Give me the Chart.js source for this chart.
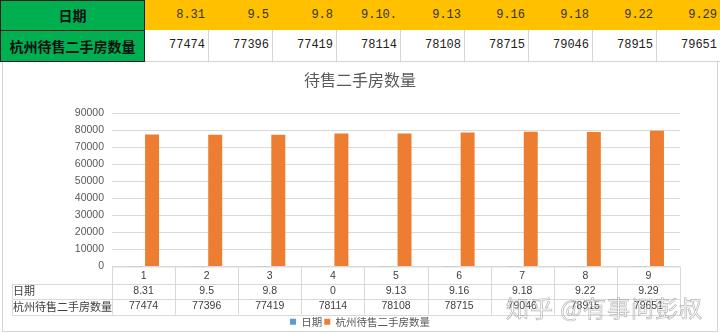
<!DOCTYPE html>
<html>
<head>
<meta charset="utf-8">
<script src="https://cdn.jsdelivr.net/npm/chart.js@4/dist/chart.umd.min.js"></script>
<style>
  body { margin: 0; background: #fff; width: 720px; height: 334px; overflow: hidden; position: relative; font-family: "Noto Sans CJK SC", sans-serif; }
  #sheet { position: absolute; left: 0; top: 0; width: 720px; height: 62px; overflow: hidden; }
  .cell { position: absolute; box-sizing: border-box; }
  .head { background: #00b050; border: 1px solid #222; font-weight: bold; font-size: 14px; color: #111; text-align: center; }
  .date { background: #ffc000; font-family: "Liberation Mono", monospace; font-size: 12px; color: #333; text-align: right; padding-right: 4px; }
  .num { background: #fff; border-right: 1px solid #d4d4d4; border-bottom: 1px solid #d4d4d4; font-family: "Liberation Mono", monospace; font-size: 12px; color: #222; text-align: right; padding-right: 3px; }
  #frame { position: absolute; left: 2px; top: 62px; width: 716px; height: 270px; box-sizing: border-box; border: 1px solid #d4d4d4; border-top: none; }
  #wrap { position: absolute; left: 0; top: 63px; width: 720px; height: 274px; }
  #mark { position: absolute; left: 506px; top: 290px; font-size: 23px; color: rgba(255,255,255,0.55); -webkit-text-stroke: 0.7px rgba(110,110,110,0.5); letter-spacing: 1px; white-space: nowrap; }
</style>
</head>
<body>
<div id="sheet"></div>
<div id="frame"></div>
<div id="wrap"><canvas id="myChart"></canvas></div>
<div id="mark">知乎 @有事问彭叔</div>
<script>
// sheet rows above the chart
const dateLabels = ['8.31', '9.5', '9.8', '9.10.', '9.13', '9.16', '9.18', '9.22', '9.29'];
// the 日期 series as Excel plots it ("9.10." is text, so it counts as 0)
const dateValues = [8.31, 9.5, 9.8, 0, 9.13, 9.16, 9.18, 9.22, 9.29];
const listings = [77474, 77396, 77419, 78114, 78108, 78715, 79046, 78915, 79651];
const categories = ['1', '2', '3', '4', '5', '6', '7', '8', '9'];
const seriesNames = ['日期', '杭州待售二手房数量'];
const yMax = 90000;
const yStep = 10000;

// build the little spreadsheet
const sheet = document.getElementById('sheet');
function addCell(cls, left, top, w, h, text, lh) {
  const d = document.createElement('div');
  d.className = 'cell ' + cls;
  d.style.left = left + 'px';
  d.style.top = top + 'px';
  d.style.width = w + 'px';
  d.style.height = h + 'px';
  d.style.lineHeight = lh + 'px';
  d.textContent = text;
  sheet.appendChild(d);
}
addCell('head', 0, 0, 145, 31, seriesNames[0], 28);
addCell('head', 0, 30, 145, 32, seriesNames[1], 30);
dateLabels.forEach((t, i) => {
  addCell('date', 145 + i * 64, 0, 64, 30, t, 30);
  addCell('num', 145 + i * 64, 30, 64, 32, listings[i], 30);
});

// data table under the plot, aligned to the category scale
const dataTable = {
  id: 'dataTable',
  afterDraw(chart) {
    const ctx = chart.ctx;
    const x = chart.scales.x;
    const w = (x.right - x.left) / categories.length;
    const top = x.top;
    const rows = [top, top + 17, top + 32, top + 48];
    const labelLeft = 12;
    ctx.save();
    ctx.strokeStyle = '#d9d9d9';
    ctx.lineWidth = 1;
    ctx.beginPath();
    ctx.moveTo(x.left, rows[0] + 0.5); ctx.lineTo(x.right, rows[0] + 0.5);
    for (let r = 1; r < 4; r++) {
      ctx.moveTo(labelLeft, Math.round(rows[r]) + 0.5);
      ctx.lineTo(x.right, Math.round(rows[r]) + 0.5);
    }
    ctx.moveTo(labelLeft + 0.5, rows[1]); ctx.lineTo(labelLeft + 0.5, rows[3]);
    for (let i = 0; i <= categories.length; i++) {
      const px = Math.round(x.left + i * w) + 0.5;
      ctx.moveTo(px, rows[0]); ctx.lineTo(px, rows[3]);
    }
    ctx.stroke();

    ctx.fillStyle = '#404040';
    ctx.textBaseline = 'middle';
    ctx.font = '11px "Noto Sans CJK SC", sans-serif';
    ctx.textAlign = 'left';
    ctx.fillText(seriesNames[0], labelLeft + 1, (rows[1] + rows[2]) / 2);
    ctx.fillText(seriesNames[1], labelLeft + 1, (rows[2] + rows[3]) / 2);
    ctx.textAlign = 'center';
    ctx.font = '10.5px "Liberation Sans", sans-serif';
    categories.forEach((c, i) => {
      const cx = x.getPixelForValue(i);
      ctx.fillText(c, cx, (rows[0] + rows[1]) / 2 + 1);
      ctx.fillText(String(chart.data.datasets[0].data[i]), cx, (rows[1] + rows[2]) / 2);
      ctx.fillText(String(chart.data.datasets[1].data[i]), cx, (rows[2] + rows[3]) / 2);
    });
    ctx.restore();
  }
};

const ctx = document.getElementById('myChart');
const myChart = new Chart(ctx, {
  type: 'bar',
  data: {
    labels: categories,
    datasets: [{
      label: seriesNames[0],
      data: dateValues,
      backgroundColor: '#5b9bd5'
    }, {
      label: seriesNames[1],
      data: listings,
      backgroundColor: '#ed7d31'
    }]
  },
  options: {
    animation: false,
    responsive: true,
    maintainAspectRatio: false,
    layout: { padding: { left: 40, right: 40, top: 0, bottom: 0 } },
    datasets: { bar: { categoryPercentage: 0.54, barPercentage: 0.82 } },
    scales: {
      x: {
        grid: { display: false },
        border: { display: false },
        ticks: { display: false },
        afterFit: s => { s.height = 48; }
      },
      y: {
        min: 0,
        max: yMax,
        grid: { color: '#d9d9d9', drawTicks: false },
        border: { display: false },
        ticks: {
          stepSize: yStep,
          padding: 8,
          color: '#595959',
          font: { family: '"Liberation Sans", sans-serif', size: 10.5 },
          callback: v => String(v)
        },
        afterFit: s => { s.width = 72; }
      }
    },
    plugins: {
      title: {
        display: true,
        text: '待售二手房数量',
        color: '#595959',
        font: { family: '"Noto Sans CJK SC", sans-serif', size: 16, weight: 'normal' },
        padding: { top: 7, bottom: 24 }
      },
      legend: {
        position: 'bottom',
        labels: {
          boxWidth: 6,
          boxHeight: 6,
          padding: 2,
          color: '#595959',
          font: { family: '"Noto Sans CJK SC", sans-serif', size: 10.5 }
        }
      },
      tooltip: { enabled: false }
    }
  },
  plugins: [dataTable]
});
</script>
</body>
</html>
